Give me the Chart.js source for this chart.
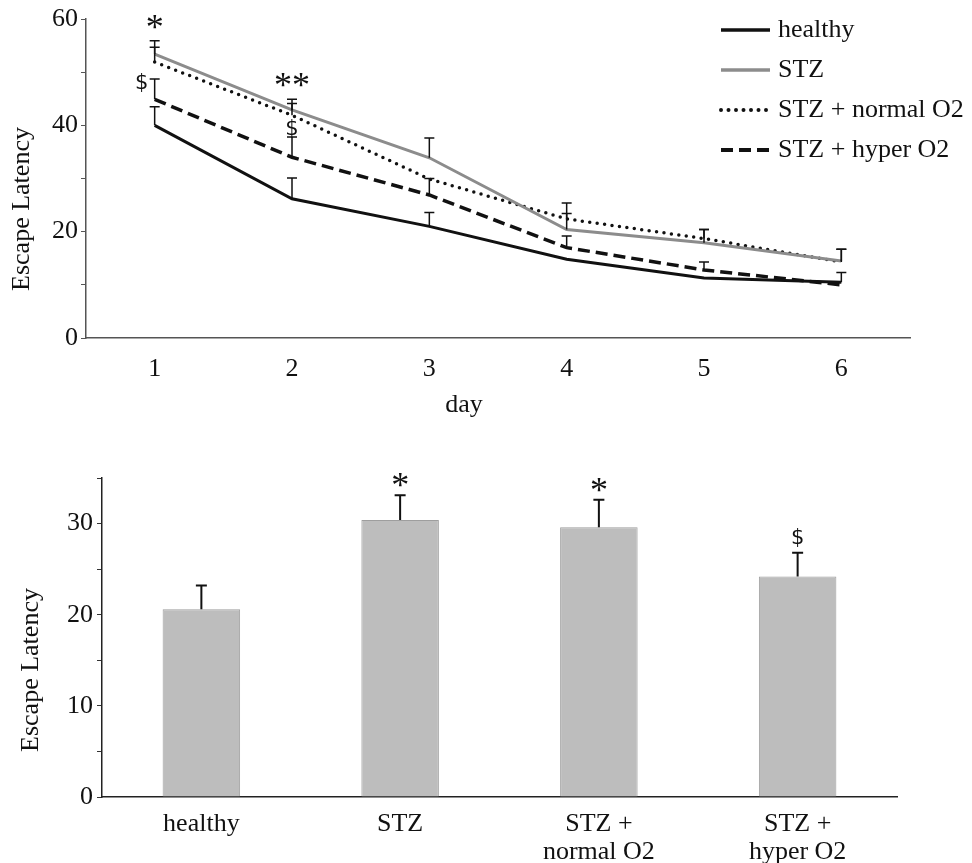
<!DOCTYPE html>
<html>
<head>
<meta charset="utf-8">
<title>Escape Latency</title>
<script src="https://cdn.jsdelivr.net/npm/chart.js@4/dist/chart.umd.min.js"></script>
<style>
  body { margin: 0; background: #fff; }
  #top, #bottom { position: absolute; left: 0; }
  #top { top: 0; }
  #bottom { top: 440px; }
</style>
</head>
<body>
<canvas id="top" width="972" height="440"></canvas>
<canvas id="bottom" width="972" height="423"></canvas>
<script>
// top panel: escape latency per day
const days = ['1', '2', '3', '4', '5', '6'];
const healthy   = [40.0, 26.2, 21.0, 14.8, 11.3, 10.5];
const stz       = [53.4, 42.9, 33.9, 20.4, 17.9, 14.5];
const stzNormal = [51.9, 41.9, 29.9, 22.4, 18.7, 14.3];
const stzHyper  = [44.9, 34.0, 26.9, 17.0, 12.8, 10.0];

const healthyErr   = [3.5, 3.9, 2.6, null, null, 1.8];
const stzErr       = [2.5, 2.0, 3.7, 3.0, 2.5, 2.2];
const stzNormalErr = [2.8, 2.2, null, 3.0, 1.7, 2.4];
const stzHyperErr  = [3.8, 3.8, 3.1, 2.2, 1.5, null];

const stzSig   = ['*', '**', '', '', '', ''];
const hyperSig = ['$', '$', '', '', '', ''];

// bottom panel: mean escape latency per group
const groups = ['healthy', 'STZ', ['STZ +', 'normal O2'], ['STZ +', 'hyper O2']];
const groupMeans = [20.6, 30.4, 29.6, 24.2];
const groupErr = [2.6, 2.7, 3.0, 2.6];
const groupSig = ['', '*', '*', '$'];

const FONT = "'Liberation Serif', 'Times New Roman', serif";
const MARK_FONTS = {
  '*': "36px 'Liberation Serif', serif",
  '**': "36px 'Liberation Serif', serif",
  '$': "21px 'DejaVu Sans', sans-serif"
};
Chart.defaults.font.family = FONT;
Chart.defaults.color = '#111';

// error bars + significance marks, drawn from the dataset's own points
const errorBars = {
  id: 'errorBars',
  afterDatasetsDraw(chart, args, opts) {
    const ctx = chart.ctx;
    const ys = chart.scales.y;
    chart.data.datasets.forEach((ds, i) => {
      if (!ds.errors) return;
      const meta = chart.getDatasetMeta(i);
      meta.data.forEach((el, j) => {
        const e = ds.errors[j];
        if (e == null) return;
        const x = el.x;
        const y0 = ys.getPixelForValue(ds.data[j]);
        const y1 = ys.getPixelForValue(ds.data[j] + e);
        ctx.save();
        ctx.strokeStyle = opts.color;
        ctx.lineWidth = opts.width;
        ctx.setLineDash([]);
        ctx.beginPath();
        ctx.moveTo(x, y0);
        ctx.lineTo(x, y1);
        ctx.moveTo(x - opts.cap / 2, y1);
        ctx.lineTo(x + opts.cap / 2, y1);
        ctx.stroke();

        const s = ds.marks && ds.marks[j];
        if (s) {
          const off = (ds.markOffsets && ds.markOffsets[j]) || [0, -opts.gap];
          ctx.font = MARK_FONTS[s];
          ctx.fillStyle = '#111';
          ctx.textAlign = 'center';
          ctx.textBaseline = 'alphabetic';
          const m = ctx.measureText(s);
          const cy = y1 + off[1];
          ctx.fillText(s, x + off[0], cy + (m.actualBoundingBoxAscent - m.actualBoundingBoxDescent) / 2);
        }
        ctx.restore();
      });
    });
  }
};

// free text (axis titles that sit off-centre in the original)
const freeText = {
  id: 'freeText',
  afterDraw(chart, args, opts) {
    const ctx = chart.ctx;
    (opts.items || []).forEach(t => {
      ctx.save();
      ctx.font = t.size + 'px ' + FONT;
      ctx.fillStyle = '#111';
      ctx.textAlign = 'center';
      ctx.textBaseline = 'middle';
      ctx.translate(t.x, t.y);
      if (t.rot) ctx.rotate(t.rot);
      ctx.fillText(t.text, 0, 0);
      ctx.restore();
    });
  }
};

// legend drawn by hand so the line styles show the dashes
const lineLegend = {
  id: 'lineLegend',
  afterDraw(chart, args, opts) {
    if (!opts.show) return;
    const ctx = chart.ctx;
    chart.data.datasets.forEach((ds, i) => {
      const y = opts.y + i * opts.step;
      ctx.save();
      ctx.strokeStyle = ds.borderColor;
      ctx.lineWidth = ds.borderWidth + 0.5;
      ctx.lineCap = ds.borderCapStyle || 'butt';
      ctx.setLineDash(ds.borderDash || []);
      ctx.beginPath();
      ctx.moveTo(opts.x, y);
      ctx.lineTo(opts.x + opts.len, y);
      ctx.stroke();
      ctx.font = opts.size + 'px ' + FONT;
      ctx.fillStyle = '#111';
      ctx.textBaseline = 'middle';
      ctx.fillText(ds.label, opts.x + opts.len + 8, y);
      ctx.restore();
    });
  }
};

Chart.register(errorBars, freeText, lineLegend);

const lineChart = new Chart(document.getElementById('top'), {
  type: 'line',
  data: {
    labels: days,
    datasets: [
      { label: 'healthy', data: healthy, errors: healthyErr,
        borderColor: '#111', borderWidth: 3 },
      { label: 'STZ', data: stz, errors: stzErr, marks: stzSig,
        borderColor: '#8c8c8c', borderWidth: 3 },
      { label: 'STZ + normal O2', data: stzNormal, errors: stzNormalErr,
        borderColor: '#111', borderWidth: 3.5, borderDash: [0, 7.5], borderCapStyle: 'round' },
      { label: 'STZ + hyper O2', data: stzHyper, errors: stzHyperErr, marks: hyperSig,
        markOffsets: [[-13, 3], [0, -9]],
        borderColor: '#111', borderWidth: 3.5, borderDash: [12, 6] }
    ]
  },
  options: {
    responsive: false,
    animation: false,
    layout: { padding: { top: 19, right: 62, left: 0, bottom: 0 } },
    elements: { point: { radius: 0 }, line: { tension: 0 } },
    plugins: {
      legend: { display: false },
      tooltip: { enabled: false },
      errorBars: { color: '#111', width: 1.5, cap: 10, gap: 19 },
      lineLegend: { show: true, x: 721, y: 30, step: 40, len: 49, size: 26 },
      freeText: { items: [
        { text: 'Escape Latency', x: 22, y: 209, size: 26, rot: -Math.PI / 2 },
        { text: 'day', x: 464, y: 405, size: 26 }
      ] }
    },
    scales: {
      x: {
        offset: true,
        grid: { display: true, drawOnChartArea: false, drawTicks: false },
        border: { color: '#555', width: 1.5 },
        ticks: { font: { size: 26 }, padding: 16, color: '#111' },
        afterFit: s => { s.height = 102; }
      },
      y: {
        min: 0, max: 60,
        grid: { drawOnChartArea: false, drawTicks: true, tickLength: 5, color: '#555' },
        border: { color: '#555', width: 1.5 },
        ticks: { stepSize: 10, font: { size: 26 }, padding: 3, color: '#111',
          callback: v => (v % 20 === 0 ? v : '') },
        afterFit: s => { s.width = 86; }
      }
    }
  }
});

const barChart = new Chart(document.getElementById('bottom'), {
  type: 'bar',
  data: {
    labels: groups,
    datasets: [
      { label: 'Escape Latency', data: groupMeans, errors: groupErr, marks: groupSig,
        backgroundColor: '#bdbdbd', borderColor: '#9e9e9e', borderWidth: 1,
        barPercentage: 0.39, categoryPercentage: 1 }
    ]
  },
  options: {
    responsive: false,
    animation: false,
    layout: { padding: { top: 38, right: 75, left: 0, bottom: 0 } },
    plugins: {
      legend: { display: false },
      tooltip: { enabled: false },
      errorBars: { color: '#111', width: 2, cap: 11, gap: 15 },
      lineLegend: { show: false },
      freeText: { items: [
        { text: 'Escape Latency', x: 31, y: 230, size: 26, rot: -Math.PI / 2 }
      ] }
    },
    scales: {
      x: {
        grid: { display: true, drawOnChartArea: false, drawTicks: false },
        border: { color: '#222', width: 1.5 },
        ticks: { font: { size: 26, lineHeight: 1.05 }, padding: 14, color: '#111' },
        afterFit: s => { s.height = 66; }
      },
      y: {
        min: 0, max: 35,
        grid: { drawOnChartArea: false, drawTicks: true, tickLength: 5, color: '#333' },
        border: { color: '#222', width: 1.5 },
        ticks: { stepSize: 5, font: { size: 26 }, padding: 4, color: '#111',
          callback: v => (v % 10 === 0 ? v : '') },
        afterFit: s => { s.width = 102; }
      }
    }
  }
});
</script>
</body>
</html>
